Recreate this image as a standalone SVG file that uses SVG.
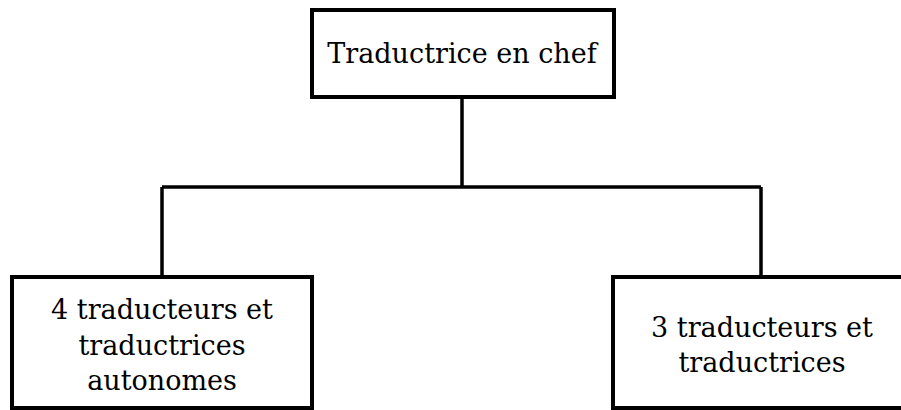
<svg xmlns="http://www.w3.org/2000/svg" width="901" height="410" viewBox="0 0 901 410">
<style>
.box{fill:#fff;stroke:#000;stroke-width:4}
.ln{fill:none;stroke:#000;stroke-width:3.5}
text{font-family:"DejaVu Serif","Liberation Serif",serif;font-size:27px;fill:#000;text-anchor:middle}
</style>
<rect width="901" height="410" fill="#fff"/>
<g id="connectors">
<path class="ln" d="M462 97V187M162 187H761M162 187V277M761 187V277"/>
</g>
<g id="chef">
<rect class="box" x="312" y="10" width="302" height="87"/>
<text x="462" y="63">Traductrice en chef</text>
</g>
<g id="autonomes">
<rect class="box" x="12" y="277" width="300" height="131"/>
<text x="162" y="319">4 traducteurs et</text>
<text x="162" y="355">traductrices</text>
<text x="162" y="390">autonomes</text>
</g>
<g id="traducteurs">
<rect class="box" x="613" y="277" width="300" height="131"/>
<text x="762" y="337">3 traducteurs et</text>
<text x="762" y="372">traductrices</text>
</g>
</svg>
